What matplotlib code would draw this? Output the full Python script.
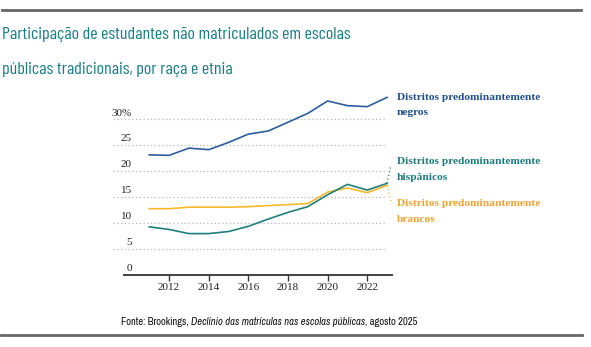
import matplotlib
matplotlib.use("Agg")
import matplotlib.pyplot as plt

# dados
anos = [2011, 2012, 2013, 2014, 2015, 2016, 2017, 2018, 2019, 2020, 2021, 2022, 2023]
negros = [23.1, 23.0, 24.4, 24.1, 25.5, 27.1, 27.7, 29.4, 31.1, 33.5, 32.6, 32.4, 34.2]
hispanicos = [9.2, 8.7, 7.9, 7.9, 8.3, 9.3, 10.7, 12.0, 13.1, 15.4, 17.4, 16.3, 17.6]
brancos = [12.7, 12.7, 13.0, 13.0, 13.0, 13.1, 13.3, 13.5, 13.7, 15.9, 16.7, 15.8, 17.2]

y_ticks = [0, 5, 10, 15, 20, 25, 30]
y_labels = ["0", "5", "10", "15", "20", "25", "30%"]
x_ticks = [2012, 2014, 2016, 2018, 2020, 2022]

titulo = ["Participação de estudantes não matriculados em escolas",
          "públicas tradicionais, por raça e etnia"]
rotulos = ["Distritos predominantemente\nnegros",
           "Distritos predominantemente\nhispânicos",
           "Distritos predominantemente\nbrancos"]
fonte = [("Fonte: Brookings, ", "normal"),
         ("Declínio das matrículas nas escolas públicas", "italic"),
         (", agosto 2025", "normal")]

AZUL = "#2c5d9f"
AZUL_TXT = "#1f4f8e"
VERDE = "#1f7f7a"
VERDE_TXT = "#1b7b80"
AMARELO = "#f6b82c"
LARANJA_TXT = "#f0a232"
CINZA = "#666666"

cond = ["Barlow Condensed", "DejaVu Sans"]
narrow = ["Archivo Narrow", "DejaVu Sans"]
serif = "Liberation Serif"

fig = plt.figure(figsize=(5.91, 3.47), dpi=100)
ax = fig.add_axes([0.1912, 0.2089, 0.4738, 0.5225])
r = fig.canvas.get_renderer()

x0, x1 = 2009.17, 2023.3
ax.set_xlim(x0, x1)
ax.set_ylim(0, 35)

# linhas de grade pontilhadas
for v in y_ticks[1:]:
    ax.hlines(v, x0, 2023, colors="#b5b5b5", linestyles=(0, (1, 2)), lw=0.9, zorder=1)
ax.hlines(0, 2009.67, x1, colors="#333333", lw=1.3, zorder=2, clip_on=False)

ax.plot(anos, negros, color=AZUL, lw=1.2, zorder=3)
ax.plot(anos, brancos, color=AMARELO, lw=1.2, zorder=3)
ax.plot(anos, hispanicos, color=VERDE, lw=1.2, zorder=4)

# linhas guia dos rótulos
ax.plot([anos[-1], 2023.19], [hispanicos[-1], 21.1], color=VERDE, lw=0.9,
        ls=(0, (1, 2)), clip_on=False)
ax.plot([anos[-1], 2023.24], [brancos[-1], 13.6], color=AMARELO, lw=0.9,
        ls=(0, (1, 2)), clip_on=False)

for s in ax.spines.values():
    s.set_visible(False)
ax.set_yticks([])
ax.set_xticks(x_ticks)
ax.set_xticklabels([str(t) for t in x_ticks], fontfamily=serif, fontsize=8, color="#222222")
ax.tick_params(axis="x", length=4, width=1, color="#333333", pad=2)

ytr = ax.get_yaxis_transform()
for v, lab in zip(y_ticks, y_labels):
    ax.text(0.068, v + 0.3, lab, transform=ytr, ha="right", va="bottom",
            fontfamily=serif, fontsize=8, color="#222222")

# rótulos das séries (duas linhas, ~16 px entre elas)
lx = 397 / 591
for (yp, lab, c) in [(97, rotulos[0], AZUL_TXT), (162, rotulos[1], VERDE_TXT),
                     (204, rotulos[2], LARANJA_TXT)]:
    l1, l2 = lab.split("\n")
    fig.text(lx, 1 - yp / 347, l1, ha="left", va="center", fontfamily=serif,
             fontweight="bold", fontsize=8.2, color=c)
    fig.text(lx, 1 - (yp + 16) / 347, l2, ha="left", va="center", fontfamily=serif,
             fontweight="bold", fontsize=8.2, color=c)

# título: ajusta o tamanho para a largura da primeira linha (~349 px)
t1 = fig.text(2 / 591, 1 - 39 / 347, titulo[0], ha="left", va="baseline",
              fontfamily=cond, fontsize=15, color="#1a7d84")
fsz = 15 * 349 / t1.get_window_extent(r).width
t1.set_fontsize(fsz)
fig.text(2 / 591, 1 - 74 / 347, titulo[1], ha="left", va="baseline",
         fontfamily=cond, fontsize=fsz, color="#1a7d84")

# réguas
fig.add_artist(plt.Line2D([2 / 591, 581 / 591], [1 - 10 / 347] * 2, color=CINZA, lw=2))
fig.add_artist(plt.Line2D([1 / 591, 582 / 591], [1 - 334.5 / 347] * 2, color=CINZA, lw=2))

# fonte
def escreve_fonte(size):
    xp = 121
    arts = []
    for txt, st in fonte:
        t = fig.text(xp / 591, 1 - 322 / 347, txt, ha="left", va="center",
                     fontfamily=narrow, fontsize=size, style=st, color="#111111")
        xp += t.get_window_extent(r).width
        arts.append(t)
    return xp - 121, arts

w, arts = escreve_fonte(7.5)
for a in arts:
    a.remove()
escreve_fonte(7.5 * 297 / w)

fig.savefig("out.png", dpi=100)
